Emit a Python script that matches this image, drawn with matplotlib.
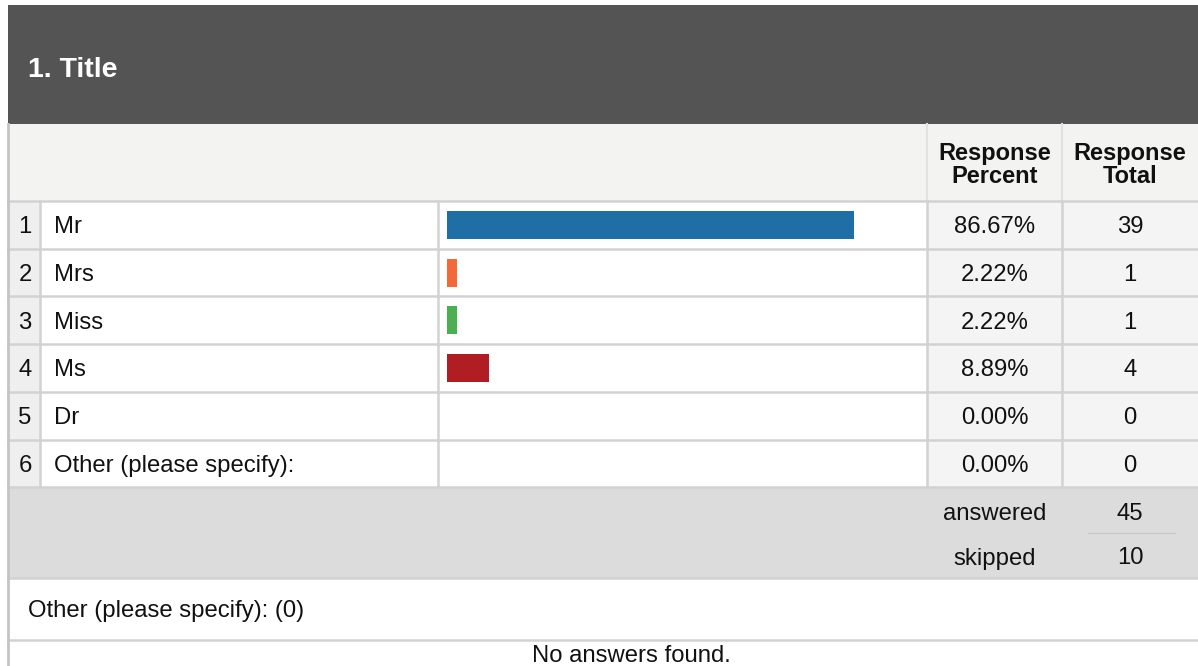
import matplotlib.pyplot as plt
from matplotlib.patches import Rectangle

title = "1. Title"
labels = ["Mr", "Mrs", "Miss", "Ms", "Dr", "Other (please specify):"]
percents = [86.67, 2.22, 2.22, 8.89, 0.00, 0.00]
totals = [39, 1, 1, 4, 0, 0]
answered = 45
skipped = 10
other_count = 0
colors = ["#1f6fa6", "#f4693a", "#4caf50", "#b01e24", "#888888", "#888888"]

plt.rcParams['font.family'] = ['Liberation Sans', 'DejaVu Sans']

W, H = 1198, 666
fig = plt.figure(figsize=(W / 100, H / 100), dpi=100)
ax = fig.add_axes([0, 0, 1, 1])
ax.set_xlim(0, W)
ax.set_ylim(H, 0)
ax.axis('off')

left, right = 8, W
x_num, x_lab, x_bar, x_pct, x_tot = 40, 438, 927, 1062, W
row_top, row_h = 201, 47.7
n = len(labels)
rows_bottom = row_top + n * row_h
grid = "#d2d2d2"
fs = 17.2
ink = "#111111"


def box(x0, y0, x1, y1, color):
    ax.add_patch(Rectangle((x0, y0), x1 - x0, y1 - y0, facecolor=color, edgecolor='none', zorder=0))


def txt(x, y, s, ha='center', **kw):
    ax.text(x, y, s, fontsize=fs, ha=ha, va='center_baseline', color=ink, **kw)


# header band
box(left, 5, right, 124, "#545454")
ax.text(28, 67, title, color="white", fontsize=20.5, fontweight='bold', va='center_baseline')

# column header row
box(left, 124, right, row_top, "#f3f3f1")
ax.text((x_bar + x_pct) / 2, 165, "Response\nPercent", fontsize=17, fontweight='bold',
        ha='center', va='center', linespacing=1.0, color=ink)
ax.text((x_pct + x_tot) / 2, 165, "Response\nTotal", fontsize=17, fontweight='bold',
        ha='center', va='center', linespacing=1.0, color=ink)
ax.plot([x_bar, x_bar], [124, row_top], color="#e2e2e2", lw=1.5)
ax.plot([x_pct, x_pct], [124, row_top], color="#e2e2e2", lw=1.5)

# answer rows
for i, (lab, p, t) in enumerate(zip(labels, percents, totals)):
    y0 = row_top + i * row_h
    yc = y0 + row_h / 2
    box(left, y0, x_num, y0 + row_h, "#efefef")
    box(x_num, y0, x_bar, y0 + row_h, "white")
    box(x_bar, y0, right, y0 + row_h, "#f4f4f4")
    txt((left + x_num) / 2 + 1, yc, str(i + 1))
    txt(54, yc, lab, ha='left')
    txt((x_bar + x_pct) / 2, yc, f"{p:.2f}%")
    txt((x_pct + x_tot) / 2, yc, str(t))
    ax.plot([left, right], [y0, y0], color=grid, lw=1.8, zorder=2)
ax.plot([left, right], [rows_bottom, rows_bottom], color=grid, lw=1.8, zorder=2)
for xv in [x_num, x_lab, x_bar, x_pct]:
    ax.plot([xv, xv], [row_top, rows_bottom], color=grid, lw=1.8, zorder=2)

# bars on their own percentage scale
bx0, bx1 = 447, 917
bar_ax = fig.add_axes([bx0 / W, 0, (bx1 - bx0) / W, 1])
bar_ax.set_xlim(0, 100)
bar_ax.set_ylim(H, 0)
bar_ax.axis('off')
centers = [row_top + (i + 0.5) * row_h for i in range(n)]
bar_ax.barh(centers, percents, height=28, color=colors, left=0)

# answered / skipped band
sum_bot = 578
box(left, rows_bottom, right, sum_bot, "#dcdcdc")
txt((x_bar + x_pct) / 2, 511, "answered")
txt((x_pct + x_tot) / 2, 511, str(answered))
txt((x_bar + x_pct) / 2, 556, "skipped")
txt((x_pct + x_tot) / 2, 556, str(skipped))
ax.plot([1088, 1175], [533, 533], color="#c8c8c8", lw=1)

# other answers
box(left, sum_bot, right, H, "white")
ax.plot([left, right], [sum_bot, sum_bot], color=grid, lw=1.8)
ax.plot([left, right], [640, 640], color=grid, lw=1.8)
txt(28, 608, f"Other (please specify): ({other_count})", ha='left')
txt(631, 653, "No answers found.")

# left border
ax.plot([left, left], [124, H], color="#c4c4c4", lw=2, zorder=3)

fig.savefig("out.png", dpi=100)
